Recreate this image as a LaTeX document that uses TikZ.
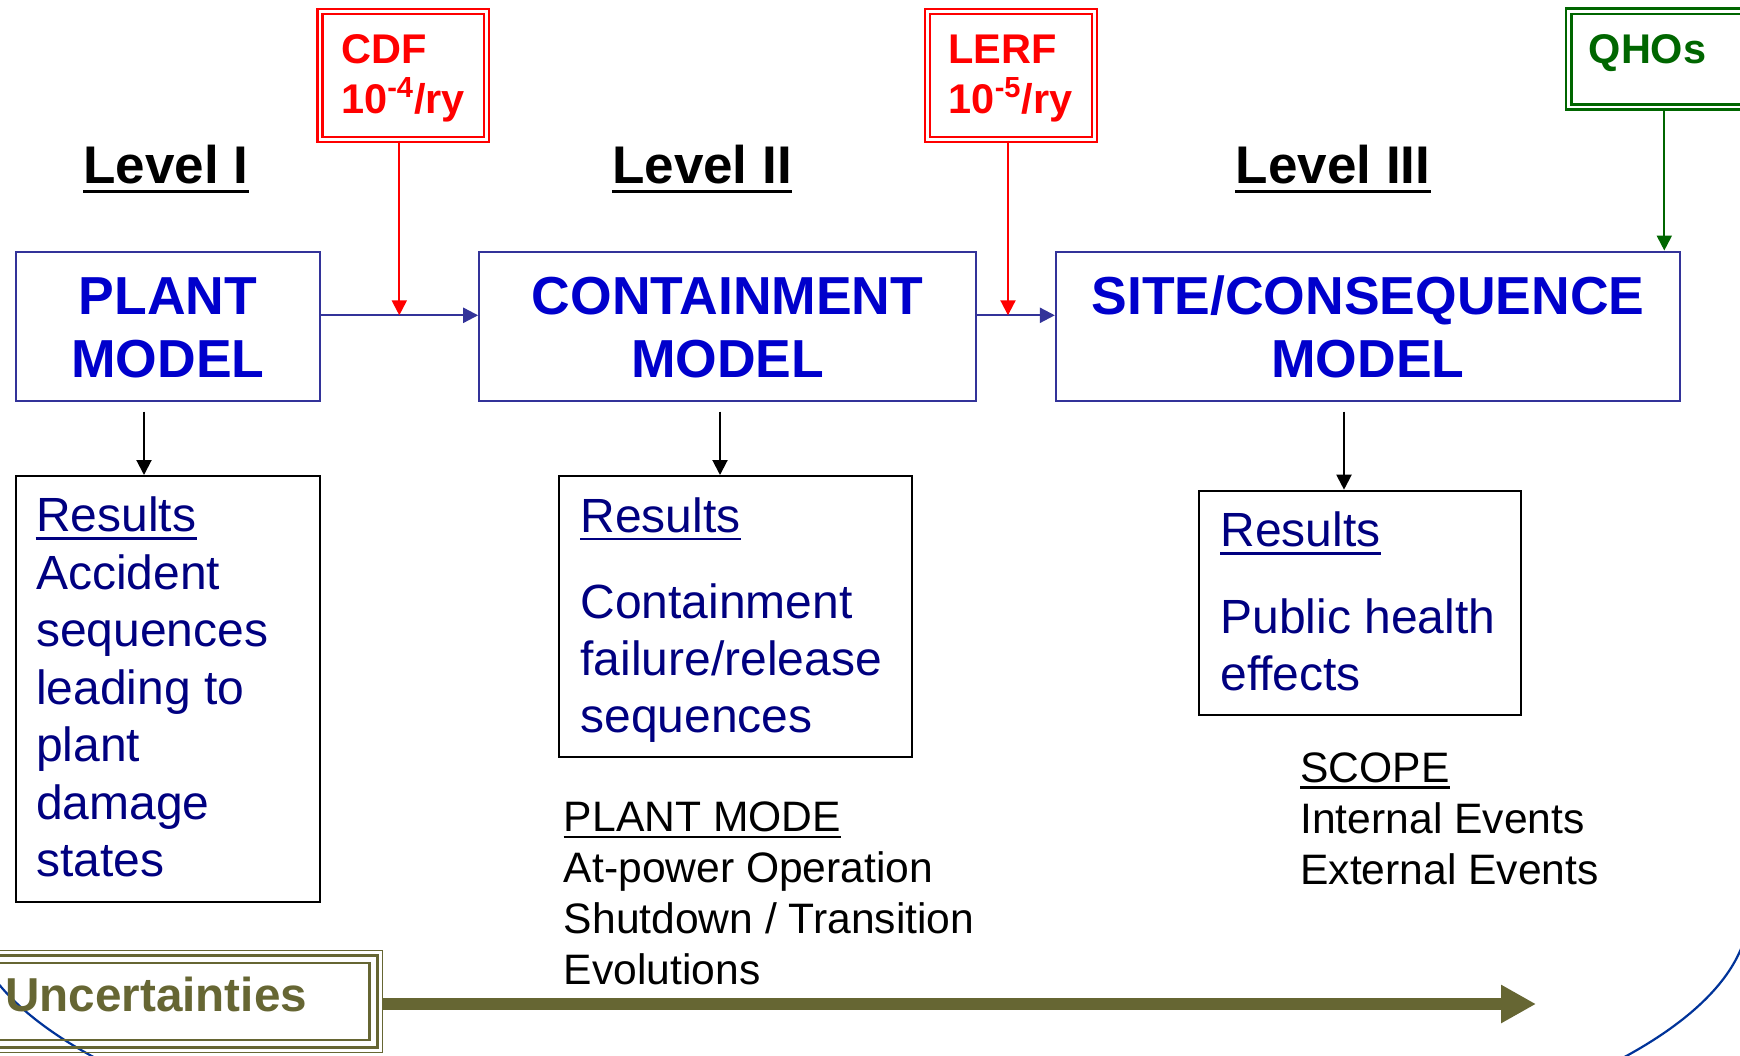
\documentclass[tikz,border=0pt]{standalone}
\usepackage{fontspec}
\setmainfont{Liberation Sans}
\usetikzlibrary{arrows.meta,fit}
\definecolor{hdblue}{HTML}{0000CC}
\definecolor{boxblue}{HTML}{333399}
\definecolor{navytxt}{HTML}{000080}
\definecolor{redc}{HTML}{FF0000}
\definecolor{greenc}{HTML}{006600}
\definecolor{olivec}{HTML}{666633}
\definecolor{arcblue}{HTML}{003399}
\tikzset{
  mbox/.style={draw=boxblue, line width=1.15pt, inner sep=0pt},
  rbox/.style={draw=black, line width=1pt, inner sep=0pt},
  dbox/.style={double=white, line width=1.15pt, double distance=1.35pt, inner sep=0pt},
  hd/.style={font=\fontsize{26.75}{30}\selectfont\bfseries, text=hdblue, inner sep=0pt, anchor=base},
  lvl/.style={font=\fontsize{26.5}{30}\selectfont\bfseries, inner sep=0pt, anchor=base},
  lim/.style={font=\fontsize{20.75}{25}\selectfont\bfseries, inner sep=0pt, anchor=base west},
  rtxt/.style={font=\fontsize{24}{28}\selectfont, text=navytxt, inner sep=0pt, anchor=base west},
  stxt/.style={font=\fontsize{21.3}{25}\selectfont, inner sep=0pt, anchor=base west},
  arr/.style={line width=1pt, -{Triangle[length=7.5pt,width=7.5pt]}},
}
\begin{document}
\begin{tikzpicture}[x=0.5pt,y=-0.5pt]
\useasboundingbox (0,0) rectangle (1740,1055);
% background arc
\begin{scope}
\clip (0,912) rectangle (1740,1055);
\draw[arcblue, line width=1.1pt] (859,910) ellipse [x radius=890, y radius=288];
\end{scope}
% levels
\node[lvl] (lv1) at (166,183.3) {Level I};
\node[lvl] (lv2) at (702,183.3) {Level II};
\node[lvl] (lv3) at (1333,183.3) {Level III};
\foreach \n in {lv1,lv2,lv3}
  \draw[line width=1.5pt] ([yshift=-3.9pt]\n.base west) -- ([yshift=-3.9pt]\n.base east);
% main boxes
\node[mbox, fit={(15.7,251.7)(320,401)}] (plant) {};
\node[mbox, fit={(479.3,251.7)(976,401)}] (cont) {};
\node[mbox, fit={(1056,251.7)(1680.3,401)}] (site) {};
\node[hd] (p1) at (167.85,314) {PLANT};
\node[hd] (p2) at (167.85,377) {MODEL};
\node[hd] (c1) at (727.6,314) {CONTAINMENT};
\node[hd] (c2) at (727.6,377) {MODEL};
\node[hd] (s1) at (1368,314) {SITE/CONSEQUENCE};
\node[hd] (s2) at (1368,377) {MODEL};
% limit boxes
\node[dbox, draw=redc, fit={(320,11.25)(486.75,139.5)}] (cdf) {};
\node[lim, text=redc] (cdft1) at (340.7,63.3) {CDF};
\node[lim, text=redc] (cdft2) at (340.7,113) {10\textsuperscript{-4}/ry};
\node[dbox, draw=redc, fit={(927.5,11.25)(1094.5,139.5)}] (lerf) {};
\node[lim, text=redc] (lerft1) at (948.2,63.3) {LERF};
\node[lim, text=redc] (lerft2) at (948.2,113) {10\textsuperscript{-5}/ry};
\node[dbox, draw=greenc, line width=1.2pt, double distance=1.4pt, fit={(1568.75,11.25)(1800,106.9)}] (qho) {};
\node[lim, text=greenc] (qhot) at (1588.3,63.3) {QHOs};
% connectors between models
\coordinate (hy) at (0,315.3);
\draw[arr, boxblue, line width=1.15pt] (plant.east |- hy) -- (cont.west |- hy);
\draw[arr, boxblue, line width=1.15pt] (cont.east |- hy) -- (site.west |- hy);
\coordinate (cdfx) at (399.3,315.3);
\coordinate (lerfx) at (1008,315.3);
\coordinate (qhox) at (1664.3,251.7);
\draw[arr, redc] (cdf.south -| cdfx) -- (cdfx);
\draw[arr, redc] (lerf.south -| lerfx) -- (lerfx);
\draw[arr, greenc] (qho.south -| qhox) -- (site.north -| qhox);
% results boxes
\node[rbox, fit={(15.7,476)(320,901.7)}] (r1) {};
\node[rbox, fit={(559.3,476)(912.3,757)}] (r2) {};
\node[rbox, fit={(1199.3,490.7)(1520.7,715)}] (r3) {};
\coordinate (a1) at (144,411.7);
\coordinate (a2) at (720,411.7);
\coordinate (a3) at (1344,411.7);
\draw[arr] (a1) -- (a1 |- r1.north);
\draw[arr] (a2) -- (a2 |- r2.north);
\draw[arr] (a3) -- (a3 |- r3.north);
% results text
\node[rtxt] (r1a) at (35.7,531.7) {Results};
\node[rtxt] (r1b) at (35.7,589.2) {Accident};
\node[rtxt] (r1c) at (35.7,646.7) {sequences};
\node[rtxt] (r1d) at (35.7,704.2) {leading to};
\node[rtxt] (r1e) at (35.7,761.7) {plant};
\node[rtxt] (r1f) at (35.7,819.2) {damage};
\node[rtxt] (r1g) at (35.7,876.7) {states};
\node[rtxt] (r2a) at (580,532) {Results};
\node[rtxt] (r2b) at (580,618) {Containment};
\node[rtxt] (r2c) at (580,675.5) {failure/release};
\node[rtxt] (r2d) at (580,732.5) {sequences};
\node[rtxt] (r3a) at (1220,546.7) {Results};
\node[rtxt] (r3b) at (1220,633.3) {Public health};
\node[rtxt] (r3c) at (1220,690) {effects};
\foreach \n in {r1a,r2a,r3a}
  \draw[navytxt, line width=1.2pt] ([yshift=-3.4pt]\n.base west) -- ([yshift=-3.4pt]\n.base east);
% plant mode and scope
\node[stxt] (pm1) at (563.5,831.5) {PLANT MODE};
\node[stxt] (pm2) at (563.5,882.5) {At-power Operation};
\node[stxt] (pm3) at (563.5,933.5) {Shutdown / Transition};
\node[stxt] (pm4) at (563.5,984.5) {Evolutions};
\node[stxt] (sc1) at (1300,782) {SCOPE};
\node[stxt] (sc2) at (1300,833.5) {Internal Events};
\node[stxt] (sc3) at (1300,884.5) {External Events};
\foreach \n in {pm1,sc1}
  \draw[line width=1.3pt] ([yshift=-2.75pt]\n.base west) -- ([yshift=-2.75pt]\n.base east);
% uncertainties
\node[draw=olivec, line width=0.8pt, inner sep=0pt, fit={(-20,950.5)(382.5,1052.5)}] (unc) {};
\draw[olivec, line width=1.4pt] (-20,955.5) rectangle (377.5,1047.5);
\draw[olivec, line width=1.4pt] (-20,963) rectangle (369.5,1040);
\node[font=\fontsize{23.8}{28}\selectfont\bfseries, text=olivec, inner sep=0pt, anchor=base west] (unct) at (5,1011.7) {Uncertainties};
\coordinate (utip) at (1536,1004);
\draw[olivec, line width=6pt, -{Triangle[length=17.5pt,width=18pt]}] (unc.east |- utip) -- (utip);
\end{tikzpicture}
\end{document}
